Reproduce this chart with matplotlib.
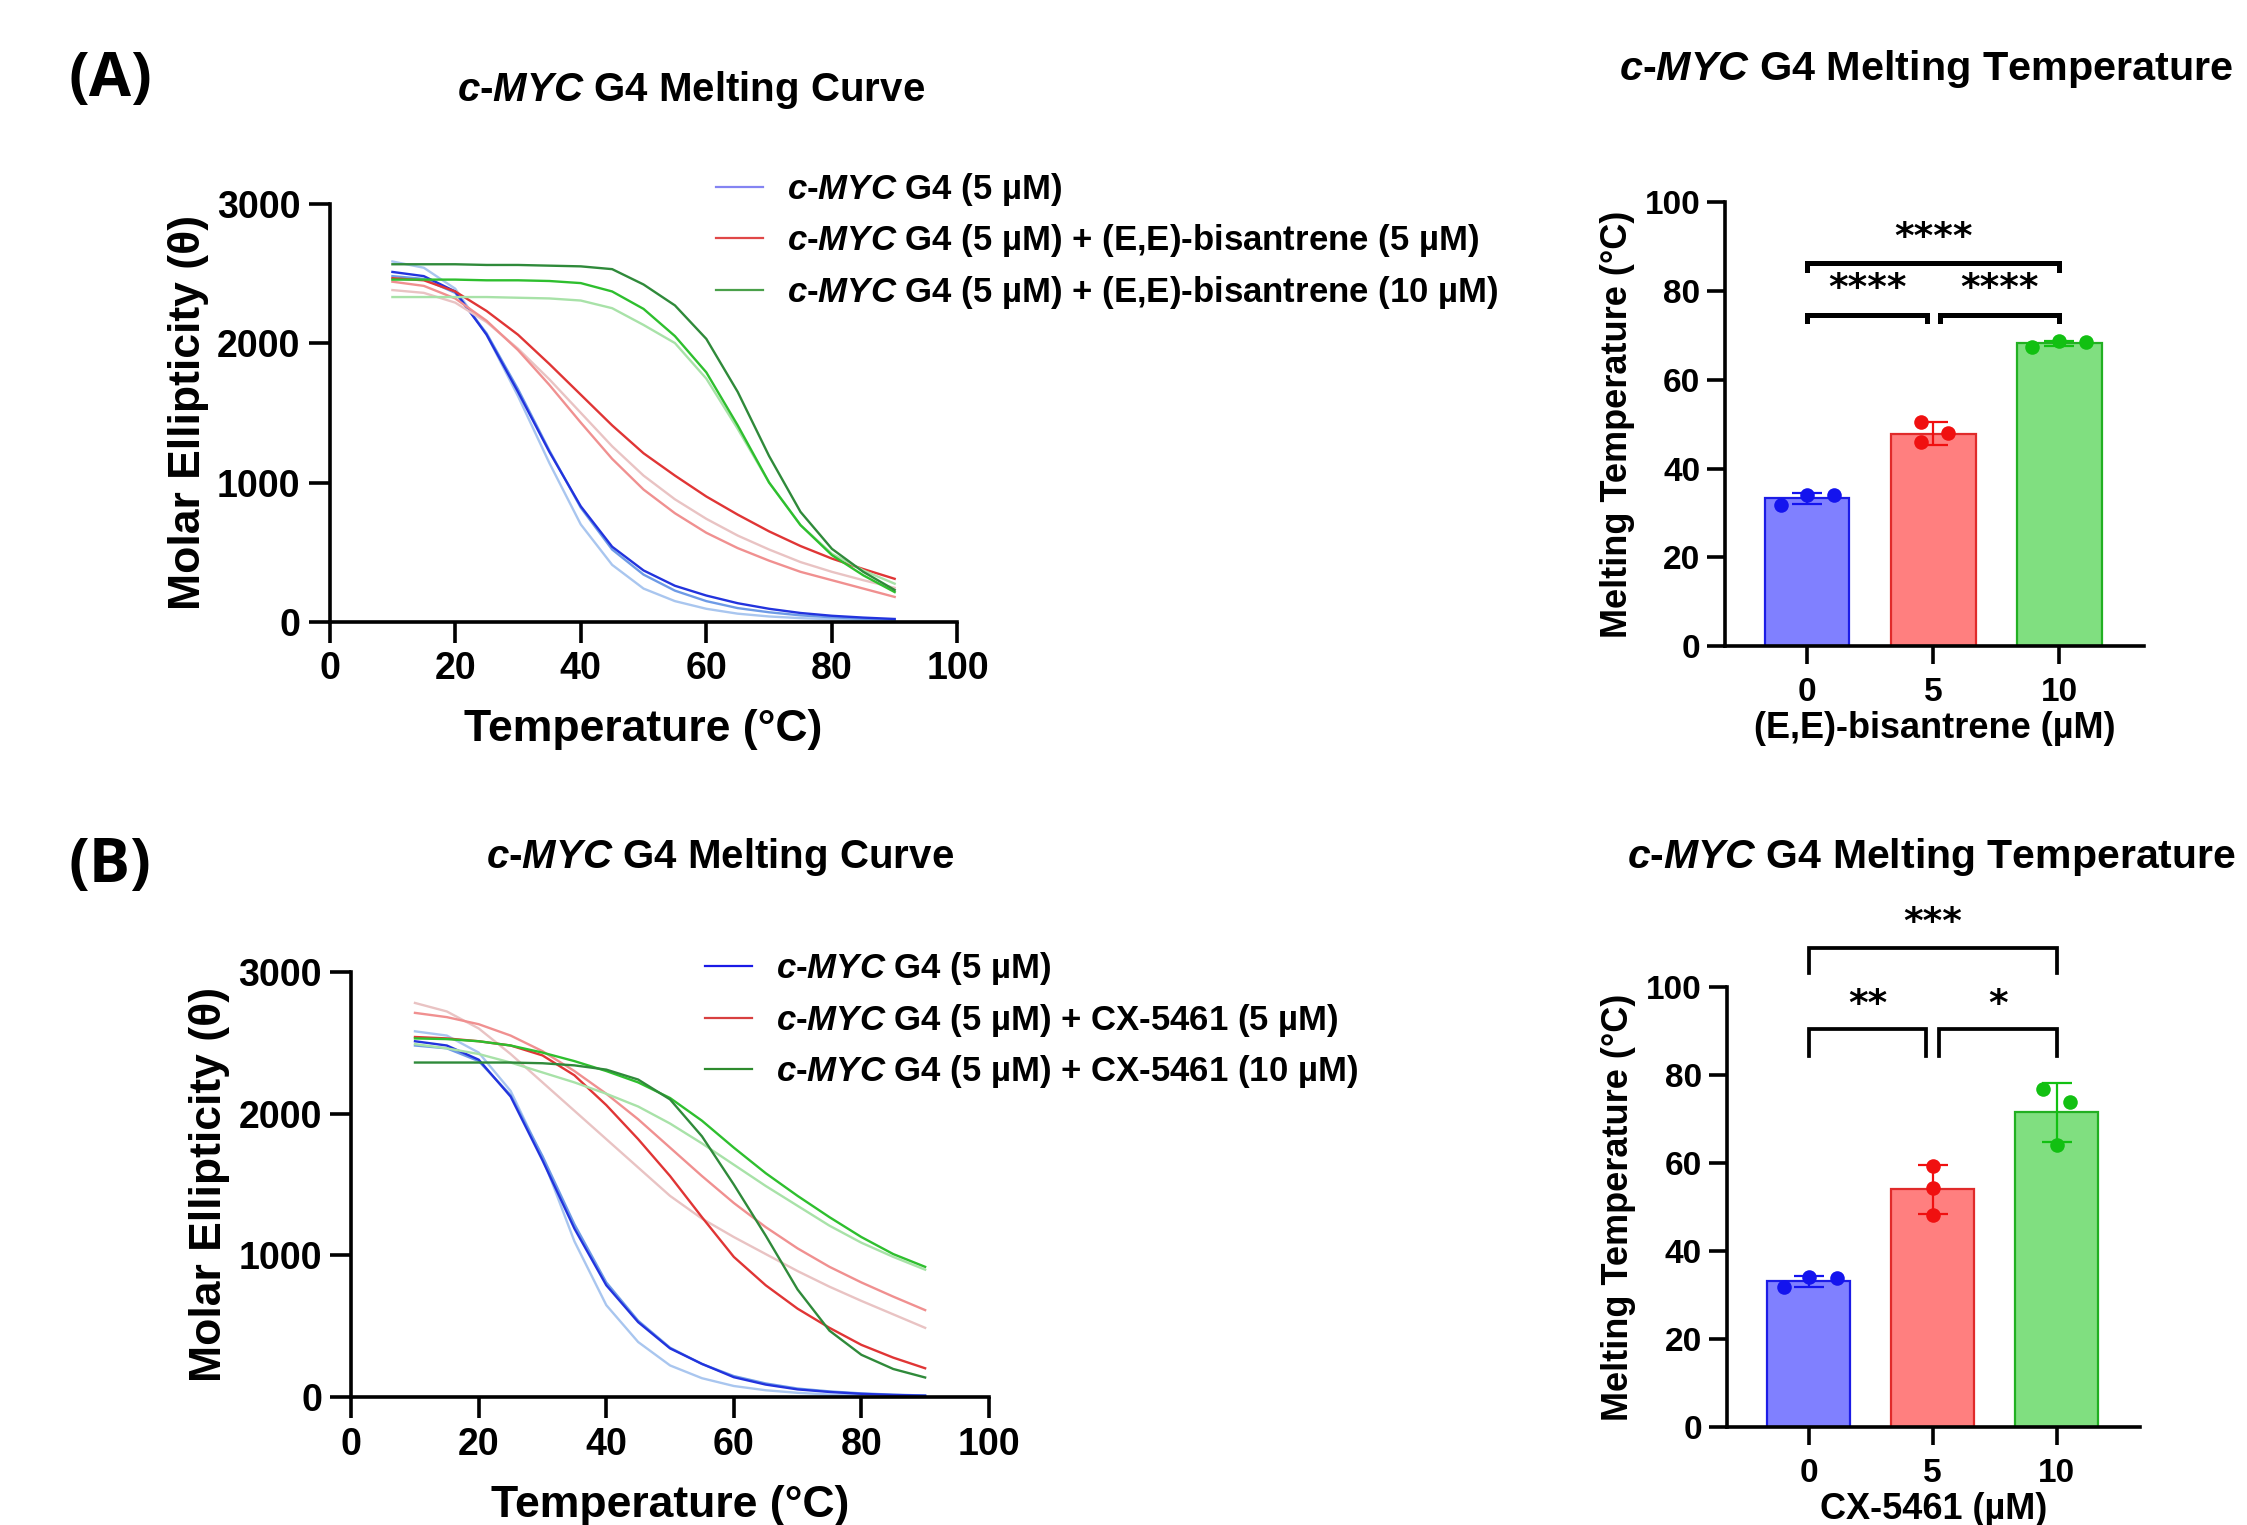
import numpy as np
import matplotlib.pyplot as plt
from matplotlib.lines import Line2D

plt.rcParams['font.family'] = ['Liberation Sans', 'DejaVu Sans']
plt.rcParams['font.weight'] = 'bold'
plt.rcParams['axes.labelweight'] = 'bold'
plt.rcParams['mathtext.fontset'] = 'custom'
plt.rcParams['mathtext.it'] = 'Liberation Sans:italic:bold'
plt.rcParams['mathtext.rm'] = 'Liberation Sans:bold'
plt.rcParams['mathtext.bf'] = 'Liberation Sans:bold'

# ---- melting curves (values read every 5 degC) ----
temps = [10, 15, 20, 25, 30, 35, 40, 45, 50, 55, 60, 65, 70, 75, 80, 85, 90]

# (A) c-MYC G4 alone
a_blue_dark = [2510, 2480, 2370, 2060, 1650, 1220, 830, 540, 370, 260, 190, 135, 95, 65, 45, 32, 22]
a_blue_mid = [2480, 2460, 2360, 2070, 1670, 1230, 820, 520, 340, 225, 150, 100, 70, 48, 34, 24, 17]
a_blue_pale = [2585, 2540, 2390, 2060, 1620, 1140, 700, 410, 240, 150, 95, 60, 40, 28, 20, 14, 10]
# (A) + (E,E)-bisantrene 5 uM
a_red_dark = [2465, 2450, 2370, 2230, 2060, 1850, 1630, 1410, 1210, 1050, 900, 770, 650, 545, 455, 380, 310]
a_red_mid = [2440, 2410, 2320, 2160, 1950, 1700, 1430, 1170, 950, 780, 640, 530, 440, 360, 300, 240, 180]
a_red_pale = [2380, 2360, 2290, 2150, 1960, 1740, 1500, 1260, 1050, 880, 740, 620, 520, 430, 360, 300, 245]
# (A) + (E,E)-bisantrene 10 uM
a_green_dark = [2565, 2565, 2565, 2560, 2560, 2555, 2550, 2530, 2420, 2270, 2030, 1650, 1190, 790, 525, 360, 230]
a_green_mid = [2455, 2455, 2455, 2450, 2450, 2445, 2430, 2370, 2245, 2050, 1790, 1410, 1000, 695, 480, 335, 215]
a_green_pale = [2330, 2330, 2330, 2330, 2325, 2320, 2305, 2250, 2130, 2000, 1745, 1385, 1000, 695, 490, 370, 275]

# (B) c-MYC G4 alone
b_blue_dark = [2510, 2480, 2380, 2120, 1670, 1190, 790, 530, 345, 236, 142, 90, 56, 38, 25, 17, 12]
b_blue_mid = [2480, 2460, 2370, 2130, 1700, 1220, 810, 540, 350, 235, 150, 98, 62, 42, 28, 19, 13]
b_blue_pale = [2580, 2550, 2430, 2160, 1690, 1100, 650, 390, 225, 135, 80, 50, 32, 20, 14, 10, 7]
# (B) + CX-5461 5 uM
b_red_dark = [2540, 2530, 2510, 2480, 2410, 2270, 2060, 1820, 1560, 1270, 990, 790, 625, 490, 370, 280, 205]
b_red_mid = [2710, 2680, 2630, 2550, 2440, 2300, 2140, 1960, 1760, 1560, 1370, 1200, 1050, 920, 810, 710, 615]
b_red_pale = [2780, 2720, 2600, 2420, 2220, 2020, 1820, 1620, 1420, 1260, 1130, 1010, 890, 780, 680, 585, 490]
# (B) + CX-5461 10 uM
b_green_dark = [2360, 2360, 2360, 2360, 2355, 2340, 2310, 2240, 2100, 1840, 1500, 1140, 760, 470, 300, 200, 140]
b_green_mid = [2530, 2525, 2510, 2480, 2430, 2370, 2300, 2220, 2110, 1950, 1760, 1580, 1420, 1270, 1130, 1010, 920]
b_green_pale = [2490, 2460, 2420, 2360, 2290, 2220, 2140, 2050, 1930, 1790, 1640, 1490, 1350, 1210, 1090, 990, 900]

# ---- melting temperatures ----
conc_labels = ['0', '5', '10']
a_tm_mean = [33.3, 47.9, 68.2]
a_tm_sd = [1.2, 2.5, 0.6]
a_tm_points = [[31.8, 34.0, 34.0], [50.6, 48.0, 46.0], [67.4, 68.7, 68.5]]
b_tm_mean = [33.2, 54.1, 71.6]
b_tm_sd = [1.3, 5.6, 6.7]
b_tm_points = [[31.8, 34.1, 33.9], [59.4, 54.5, 48.2], [76.9, 73.9, 64.3]]

MYC = r'$\mathit{c}$-$\mathit{MYC}$'
a_legend = [MYC + ' G4 (5 µM)',
            MYC + ' G4 (5 µM) + (E,E)-bisantrene (5 µM)',
            MYC + ' G4 (5 µM) + (E,E)-bisantrene (10 µM)']
b_legend = [MYC + ' G4 (5 µM)',
            MYC + ' G4 (5 µM) + CX-5461 (5 µM)',
            MYC + ' G4 (5 µM) + CX-5461 (10 µM)']

blues = ['#a9c6ef', '#6e9be6', '#2233dd']
reds = ['#e9c3c3', '#f09090', '#e03535']
greens = ['#a8e2a8', '#2ebf2e', '#2f8a3a']

fig = plt.figure(figsize=(22.47, 15.25), dpi=100)


def style_line_ax(ax):
    for s in ['top', 'right']:
        ax.spines[s].set_visible(False)
    for s in ['left', 'bottom']:
        ax.spines[s].set_linewidth(2.6)
    ax.set_xlim(0, 100)
    ax.set_ylim(0, 3000)
    ax.set_xticks([0, 20, 40, 60, 80, 100])
    ax.set_yticks([0, 1000, 2000, 3000])
    ax.tick_params(length=15, width=2.6, labelsize=27, pad=6)
    ax.set_xlabel('Temperature (°C)', fontsize=32, labelpad=16)
    ax.set_ylabel('Molar Ellipticity (θ)', fontsize=32, labelpad=6)


def draw_curves(ax, sets):
    for reps, cols in sets:
        for vals, c in zip(reps, cols):
            ax.plot(temps, vals, color=c, lw=1.7)


axA = fig.add_axes([0.1467, 0.5921, 0.2794, 0.2744])
draw_curves(axA, [([a_blue_pale, a_blue_mid, a_blue_dark], blues),
                  ([a_red_pale, a_red_mid, a_red_dark], reds),
                  ([a_green_pale, a_green_mid, a_green_dark], greens)])
style_line_ax(axA)
hA = [Line2D([], [], color=c, lw=1.6) for c in ['#8484f2', '#e04848', '#4aa04a']]
axA.legend(hA, a_legend, loc='upper left', bbox_to_anchor=(0.3187, 0.888),
           bbox_transform=fig.transFigure, frameon=False, fontsize=25,
           handlelength=1.35, handletextpad=0.7, labelspacing=0.42,
           borderpad=0, borderaxespad=0)

axB = fig.add_axes([0.1563, 0.0837, 0.2838, 0.2791])
draw_curves(axB, [([b_blue_pale, b_blue_mid, b_blue_dark], blues),
                  ([b_red_pale, b_red_mid, b_red_dark], reds),
                  ([b_green_pale, b_green_mid, b_green_dark], greens)])
style_line_ax(axB)
hB = [Line2D([], [], color=c, lw=1.6) for c in ['#1a1ae6', '#d84040', '#2e8b2e']]
axB.legend(hB, b_legend, loc='upper left', bbox_to_anchor=(0.3137, 0.377),
           bbox_transform=fig.transFigure, frameon=False, fontsize=25,
           handlelength=1.35, handletextpad=0.7, labelspacing=0.42,
           borderpad=0, borderaxespad=0)

# ---- bar charts ----
fills = ['#8080ff', '#ff7f7f', '#80df80']
edges = ['#1c1ce6', '#e02a2a', '#22b022']
dots = ['#1414ee', '#f01010', '#12c012']


def draw_bars(ax, means, sds, points, offsets, xlabel, xlim):
    x = np.arange(len(conc_labels))
    ax.bar(x, means, width=0.67, color=fills, edgecolor=edges, linewidth=1.6, zorder=1)
    for i in range(len(x)):
        ax.errorbar(x[i], means[i], yerr=sds[i], fmt='none', ecolor=dots[i],
                    elinewidth=1.6, capsize=11, capthick=1.6, zorder=2)
        ax.scatter(x[i] + np.array(offsets[i]), points[i], s=110, color=dots[i],
                   zorder=3, linewidths=0)
    for s in ['top', 'right']:
        ax.spines[s].set_visible(False)
    for s in ['left', 'bottom']:
        ax.spines[s].set_linewidth(2.6)
    ax.set_xlim(*xlim)
    ax.set_ylim(0, 100)
    ax.set_yticks([0, 20, 40, 60, 80, 100])
    ax.set_xticks(x)
    ax.set_xticklabels(conc_labels)
    ax.tick_params(length=13, width=2.6, labelsize=24, pad=5)
    ax.tick_params(axis='x', pad=9)
    ax.set_xlabel(xlabel, fontsize=26, labelpad=2)
    ax.set_ylabel('Melting Temperature (°C)', fontsize=26, labelpad=7)


def bracket(ax, x0, x1, y, drop, lw, stars, ty, fs):
    ax.plot([x0, x0, x1, x1], [y - drop, y, y, y - drop], color='black', lw=lw,
            clip_on=False, solid_joinstyle='miter')
    ax.text((x0 + x1) / 2, ty, stars, ha='center', va='center', fontsize=fs,
            family='DejaVu Sans', fontweight='bold', clip_on=False)


barA = fig.add_axes([0.7679, 0.5762, 0.1862, 0.2913])
draw_bars(barA, a_tm_mean, a_tm_sd, a_tm_points,
          [[-0.21, 0, 0.21], [-0.1, 0.12, -0.1], [-0.22, 0, 0.21]],
          '(E,E)-bisantrene (µM)', (-0.648, 2.67))
bracket(barA, 0, 2, 86.2, 1.4, 3.6, '****', 91.8, 27)
bracket(barA, 0, 0.95, 74.5, 1.2, 3.6, '****', 80.4, 27)
bracket(barA, 1.05, 2, 74.5, 1.2, 3.6, '****', 80.4, 27)

barB = fig.add_axes([0.7685, 0.0640, 0.1837, 0.2885])
draw_bars(barB, b_tm_mean, b_tm_sd, b_tm_points,
          [[-0.2, 0, 0.23], [0, 0, 0], [-0.11, 0.11, 0]],
          'CX-5461 (µM)', (-0.659, 2.67))
bracket(barB, 0, 2, 108.9, 5.6, 2.7, '***', 114.7, 27)
bracket(barB, 0, 0.95, 90.5, 6.1, 2.7, '**', 96.0, 27)
bracket(barB, 1.05, 2, 90.5, 6.1, 2.7, '*', 96.0, 27)

# ---- titles and panel letters ----
fig.text(0.3075, 0.941, MYC + ' G4 Melting Curve', ha='center', va='center', fontsize=29)
fig.text(0.3204, 0.438, MYC + ' G4 Melting Curve', ha='center', va='center', fontsize=29)
fig.text(0.7205, 0.9548, MYC + ' G4 Melting Temperature', ha='left', va='center', fontsize=29.8)
fig.text(0.7241, 0.438, MYC + ' G4 Melting Temperature', ha='left', va='center', fontsize=29.5)
fig.text(0.049, 0.947, '(A)', ha='center', va='center', fontsize=44,
         family='Open Sans', fontweight='bold')
fig.text(0.049, 0.4315, '(B)', ha='center', va='center', fontsize=44,
         family='Open Sans', fontweight='bold')

fig.savefig('out.png', dpi=100)
